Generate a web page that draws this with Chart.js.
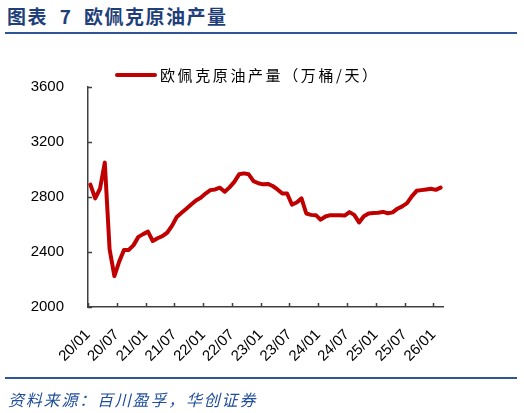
<!DOCTYPE html>
<html>
<head>
<meta charset="utf-8">
<script src="https://cdn.jsdelivr.net/npm/chart.js@4.4.0/dist/chart.umd.min.js"></script>
<style>
  body { margin: 0; width: 524px; height: 413px; position: relative; background: #fff; overflow: hidden; font-family: "Noto Sans CJK SC", sans-serif; }
  #title { position: absolute; left: 7px; top: 4px; font-size: 19px; line-height: 24px; font-weight: bold; color: #1F3F7A; letter-spacing: 1.5px; white-space: pre; }
  .rule { position: absolute; left: 5px; width: 512px; height: 2px; background: #2E5596; }
  #legend { position: absolute; left: 115px; top: 65px; height: 20px; display: flex; align-items: center; }
  #legend .swatch { width: 42px; height: 4px; background: #C00000; border-radius: 2px; }
  #legend .text { margin-left: 3px; font-size: 15px; line-height: 20px; letter-spacing: 2.6px; color: #000; }
  #source { position: absolute; left: 8px; top: 389px; font-size: 16px; line-height: 20px; font-style: italic; letter-spacing: 1.8px; color: #1F4E9A; }
  #wrap { position: absolute; left: 0; top: 0; width: 524px; height: 413px; }
</style>
</head>
<body>
<div id="title">图表  7  欧佩克原油产量</div>
<div class="rule" style="top:32px"></div>
<div id="wrap"><canvas id="chart"></canvas></div>
<div id="legend"><span class="swatch"></span><span class="text" id="legendText"></span></div>
<div class="rule" style="top:377px"></div>
<div id="source">资料来源：百川盈孚，华创证券</div>

<script>
// 月度数据，2020/01 起
const seriesName = '欧佩克原油产量（万桶/天）';
const tickLabels = ['20/01', '20/07', '21/01', '21/07', '22/01', '22/07', '23/01', '23/07', '24/01', '24/07', '25/01', '25/07', '26/01'];
const production = [
    2890, 2790, 2860, 3050, 2420, 2225, 2330, 2415, 2415, 2450, 2510, 2530,
    2548, 2480, 2500, 2515, 2540, 2590, 2655, 2685, 2715, 2745, 2775, 2795,
    2825, 2850, 2855, 2868, 2838, 2870, 2910, 2965, 2972, 2965, 2915, 2900,
    2892, 2895, 2880, 2855, 2825, 2825, 2745, 2760, 2790, 2680, 2670, 2668,
    2635, 2658, 2668, 2668, 2668, 2665, 2690, 2670, 2615, 2660, 2680, 2683,
    2685, 2692, 2682, 2688, 2715, 2732, 2755, 2805, 2845, 2850, 2855, 2860,
    2852, 2868
];
const yTicks = [2000, 2400, 2800, 3200, 3600];

const axisColor = '#404040';
const fontNum = { family: '"Liberation Sans", Arial, sans-serif', size: 15 };

document.getElementById('legendText').textContent = seriesName;

// 每个月的点画在月中
const points = production.map((v, i) => ({ x: i + 0.5, y: v }));

// 轴内侧的小刻度
const innerTicks = {
    id: 'innerTicks',
    afterDraw(chart) {
        const { ctx, chartArea: a, scales: { x, y } } = chart;
        ctx.save();
        ctx.strokeStyle = axisColor;
        ctx.lineWidth = 1.5;
        ctx.beginPath();
        x.ticks.forEach(t => {
            const px = Math.round(x.getPixelForValue(t.value)) + 0.5;
            ctx.moveTo(px, a.bottom);
            ctx.lineTo(px, a.bottom - 4);
        });
        y.ticks.forEach(t => {
            const py = Math.round(y.getPixelForValue(t.value)) + 0.5;
            ctx.moveTo(a.left, py);
            ctx.lineTo(a.left + 4, py);
        });
        ctx.stroke();
        ctx.restore();
    }
};

const ctx = document.getElementById('chart').getContext('2d');
new Chart(ctx, {
    type: 'line',
    data: {
        datasets: [{
            label: seriesName,
            data: points,
            borderColor: '#C00000',
            borderWidth: 4,
            borderCapStyle: 'round',
            borderJoinStyle: 'round',
            pointRadius: 0,
            tension: 0
        }]
    },
    options: {
        responsive: true,
        maintainAspectRatio: false,
        animation: false,
        layout: { padding: { left: 0, right: 81, top: 87, bottom: 46 } },
        plugins: { legend: { display: false }, tooltip: { enabled: false } },
        scales: {
            x: {
                type: 'linear',
                min: 0,
                max: production.length,
                afterFit: s => { s.height = 60; },
                grid: { display: true, drawOnChartArea: false, drawTicks: false },
                border: { display: true, color: axisColor, width: 1.5 },
                ticks: {
                    stepSize: 6,
                    includeBounds: false,
                    autoSkip: false,
                    maxRotation: 45,
                    minRotation: 45,
                    padding: 19,
                    color: '#000',
                    font: fontNum,
                    callback: v => tickLabels[v / 6]
                }
            },
            y: {
                min: yTicks[0],
                max: yTicks[yTicks.length - 1],
                afterFit: s => { s.width = 88; },
                grid: { display: true, drawOnChartArea: false, drawTicks: false },
                border: { display: true, color: axisColor, width: 1.5 },
                ticks: {
                    stepSize: 400,
                    padding: 24,
                    color: '#000',
                    font: fontNum,
                    callback: v => String(v)
                }
            }
        }
    },
    plugins: [innerTicks]
});
</script>
</body>
</html>
